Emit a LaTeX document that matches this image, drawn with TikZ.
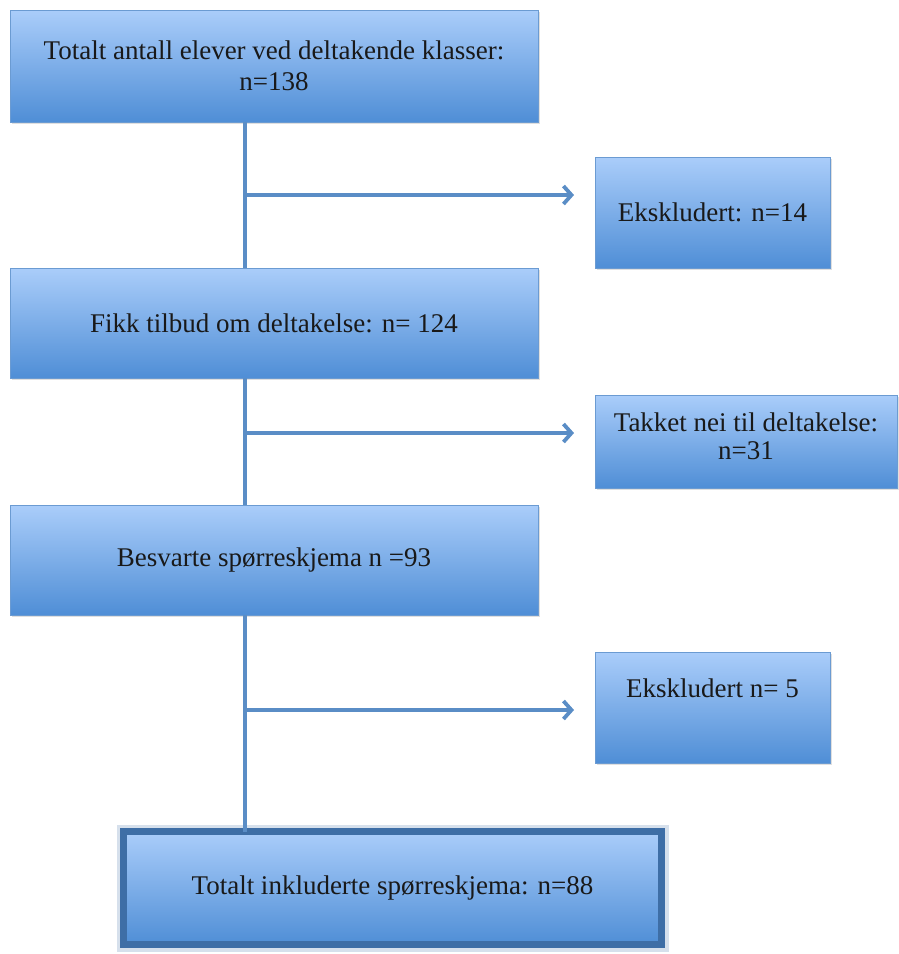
\documentclass[tikz,border=0pt]{standalone}
\usepackage{fontspec}
\setmainfont{Liberation Serif}
\usetikzlibrary{arrows.meta,shadows,calc}
\definecolor{topc}{HTML}{AACDFA}
\definecolor{botc}{HTML}{4F8ED6}
\definecolor{edgec}{HTML}{6B9BD2}
\definecolor{linec}{HTML}{5A8DC6}
\definecolor{framec}{HTML}{3E6EA6}
\begin{document}
\begin{tikzpicture}[x=1pt,y=-1pt,
  plain/.style={rectangle, top color=topc, bottom color=botc,
    anchor=north west, inner sep=0pt, outer sep=0pt, align=center, text=black!90,
    font=\fontsize{27}{31}\selectfont},
  box/.style={plain, draw=edgec, line width=0.8pt,
    drop shadow={shadow xshift=1.5pt, shadow yshift=-2pt, opacity=0.25}},
  txt/.style={align=center, text=black!90, font=\fontsize{27}{31}\selectfont, inner sep=0pt},
  conn/.style={draw=linec, line width=3.8pt},
  arr/.style={conn, -{Straight Barb[length=8pt,width=18pt,line width=3.8pt]}}
]
\useasboundingbox (0,0) rectangle (898,954);
\node[box, minimum width=528pt, minimum height=112pt] (b1) at (10,10)
  {Totalt antall elever ved deltakende klasser:\\ n=138};
\node[box, minimum width=235pt, minimum height=111pt] (b2) at (595,157)
  {Ekskludert: n=14};
\node[box, minimum width=528pt, minimum height=110pt] (b3) at (10,268)
  {Fikk tilbud om deltakelse: n= 124};
\node[box, minimum width=302pt, minimum height=93pt] (b4) at (595,395) {};
\node[txt, anchor=base] (t4) at ($(b4.north)+(0,36)$) {Takket nei til deltakelse:};
\node[txt, anchor=base] (t4b) at ($(b4.north)+(0,64)$) {n=31};
\node[box, minimum width=528pt, minimum height=110pt] (b5) at (10,505)
  {Besvarte spørreskjema n =93};
\node[box, minimum width=235pt, minimum height=111pt] (b6) at (595,652) {};
\node[txt, anchor=base] (t6) at ($(b6.north)+(0,45)$) {Ekskludert n= 5};
% final box with thick frame
\node[rectangle, draw=framec!70, line width=14pt, opacity=0.3, outer sep=0pt,
  minimum width=538pt, minimum height=113pt, anchor=north west] (g7) at (123.5,831.5) {};
\node[plain, draw=framec, line width=7pt, minimum width=538pt, minimum height=113pt] (b7) at (123.5,831.5)
  {Totalt inkluderte spørreskjema: n=88};
% connectors
\coordinate (j1) at (245,195);
\coordinate (j2) at (245,433);
\coordinate (j3) at (245,710);
\draw[conn] (b1.south -| j1) -- (b3.north -| j1);
\draw[conn] (b3.south -| j1) -- (b5.north -| j1);
\draw[conn] (b5.south -| j1) -- (b7.north -| j1);
\draw[arr] (j1) -- ($(j1 -| b2.west)+(-21,0)$);
\draw[arr] (j2) -- ($(j2 -| b4.west)+(-21,0)$);
\draw[arr] (j3) -- ($(j3 -| b6.west)+(-21,0)$);
\end{tikzpicture}
\end{document}
